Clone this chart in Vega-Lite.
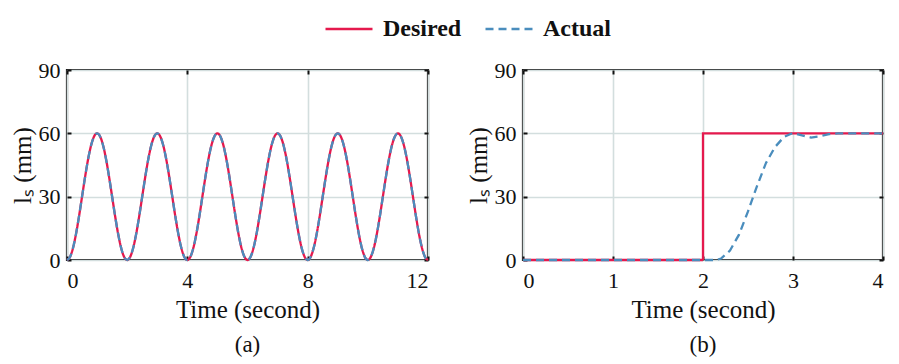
{
  "$schema": "https://vega.github.io/schema/vega-lite/v6.json",
  "background": "white",
  "padding": {"left": 8, "top": 4, "right": 5, "bottom": 5},
  "config": {
    "font": "Liberation Serif",
    "view": {"stroke": "#1a1a1a", "strokeWidth": 2.2},
    "style": {"guide-label": {"font": "Liberation Serif"}, "guide-title": {"font": "Liberation Serif"}},
    "axis": {
      "labelFont": "Liberation Serif", "labelFontSize": 22, "labelColor": "#111",
      "titleFont": "Liberation Serif", "titleFontSize": 25, "titleFontWeight": "normal", "titleColor": "#111",
      "gridColor": "#d3dede", "gridWidth": 1.6, "gridOpacity": 1,
      "domain": false, "tickColor": "#111", "tickWidth": 2, "tickSize": -4
    },
    "axisX": {"labelPadding": 14},
    "axisY": {"labelPadding": 11},
    "legend": {
      "labelFont": "Liberation Serif", "labelFontSize": 24, "labelFontWeight": "bold", "labelColor": "#111",
      "symbolType": "stroke", "symbolSize": 2209, "symbolStrokeWidth": 2.5, "labelOffset": 9, "columnPadding": 18
    },
    "title": {"font": "Liberation Serif", "fontSize": 23, "fontWeight": "normal", "color": "#111", "orient": "bottom", "offset": 12},
    "concat": {"spacing": 30}
  },
  "resolve": {"scale": {"color": "shared", "strokeDash": "shared"}},
  "hconcat": [
    {
      "width": 361, "height": 190,
      "title": "(a)",
      "data": {"values": [
        {"t":0,"Desired":0,"Actual":0},{"t":0.1,"Desired":1.47,"Actual":1.47},{"t":0.2,"Desired":5.73,"Actual":5.73},{"t":0.3,"Desired":12.37,"Actual":12.37},{"t":0.4,"Desired":20.73,"Actual":20.73},{"t":0.5,"Desired":30,"Actual":30},{"t":0.6,"Desired":39.27,"Actual":39.27},{"t":0.7,"Desired":47.63,"Actual":47.63},{"t":0.8,"Desired":54.27,"Actual":54.27},{"t":0.9,"Desired":58.53,"Actual":58.53},
        {"t":1,"Desired":60,"Actual":60},{"t":1.1,"Desired":58.53,"Actual":58.53},{"t":1.2,"Desired":54.27,"Actual":54.27},{"t":1.3,"Desired":47.63,"Actual":47.63},{"t":1.4,"Desired":39.27,"Actual":39.27},{"t":1.5,"Desired":30,"Actual":30},{"t":1.6,"Desired":20.73,"Actual":20.73},{"t":1.7,"Desired":12.37,"Actual":12.37},{"t":1.8,"Desired":5.73,"Actual":5.73},{"t":1.9,"Desired":1.47,"Actual":1.47},
        {"t":2,"Desired":0,"Actual":0},{"t":2.1,"Desired":1.47,"Actual":1.47},{"t":2.2,"Desired":5.73,"Actual":5.73},{"t":2.3,"Desired":12.37,"Actual":12.37},{"t":2.4,"Desired":20.73,"Actual":20.73},{"t":2.5,"Desired":30,"Actual":30},{"t":2.6,"Desired":39.27,"Actual":39.27},{"t":2.7,"Desired":47.63,"Actual":47.63},{"t":2.8,"Desired":54.27,"Actual":54.27},{"t":2.9,"Desired":58.53,"Actual":58.53},
        {"t":3,"Desired":60,"Actual":60},{"t":3.1,"Desired":58.53,"Actual":58.53},{"t":3.2,"Desired":54.27,"Actual":54.27},{"t":3.3,"Desired":47.63,"Actual":47.63},{"t":3.4,"Desired":39.27,"Actual":39.27},{"t":3.5,"Desired":30,"Actual":30},{"t":3.6,"Desired":20.73,"Actual":20.73},{"t":3.7,"Desired":12.37,"Actual":12.37},{"t":3.8,"Desired":5.73,"Actual":5.73},{"t":3.9,"Desired":1.47,"Actual":1.47},
        {"t":4,"Desired":0,"Actual":0},{"t":4.1,"Desired":1.47,"Actual":1.47},{"t":4.2,"Desired":5.73,"Actual":5.73},{"t":4.3,"Desired":12.37,"Actual":12.37},{"t":4.4,"Desired":20.73,"Actual":20.73},{"t":4.5,"Desired":30,"Actual":30},{"t":4.6,"Desired":39.27,"Actual":39.27},{"t":4.7,"Desired":47.63,"Actual":47.63},{"t":4.8,"Desired":54.27,"Actual":54.27},{"t":4.9,"Desired":58.53,"Actual":58.53},
        {"t":5,"Desired":60,"Actual":60},{"t":5.1,"Desired":58.53,"Actual":58.53},{"t":5.2,"Desired":54.27,"Actual":54.27},{"t":5.3,"Desired":47.63,"Actual":47.63},{"t":5.4,"Desired":39.27,"Actual":39.27},{"t":5.5,"Desired":30,"Actual":30},{"t":5.6,"Desired":20.73,"Actual":20.73},{"t":5.7,"Desired":12.37,"Actual":12.37},{"t":5.8,"Desired":5.73,"Actual":5.73},{"t":5.9,"Desired":1.47,"Actual":1.47},
        {"t":6,"Desired":0,"Actual":0},{"t":6.1,"Desired":1.47,"Actual":1.47},{"t":6.2,"Desired":5.73,"Actual":5.73},{"t":6.3,"Desired":12.37,"Actual":12.37},{"t":6.4,"Desired":20.73,"Actual":20.73},{"t":6.5,"Desired":30,"Actual":30},{"t":6.6,"Desired":39.27,"Actual":39.27},{"t":6.7,"Desired":47.63,"Actual":47.63},{"t":6.8,"Desired":54.27,"Actual":54.27},{"t":6.9,"Desired":58.53,"Actual":58.53},
        {"t":7,"Desired":60,"Actual":60},{"t":7.1,"Desired":58.53,"Actual":58.53},{"t":7.2,"Desired":54.27,"Actual":54.27},{"t":7.3,"Desired":47.63,"Actual":47.63},{"t":7.4,"Desired":39.27,"Actual":39.27},{"t":7.5,"Desired":30,"Actual":30},{"t":7.6,"Desired":20.73,"Actual":20.73},{"t":7.7,"Desired":12.37,"Actual":12.37},{"t":7.8,"Desired":5.73,"Actual":5.73},{"t":7.9,"Desired":1.47,"Actual":1.47},
        {"t":8,"Desired":0,"Actual":0},{"t":8.1,"Desired":1.47,"Actual":1.47},{"t":8.2,"Desired":5.73,"Actual":5.73},{"t":8.3,"Desired":12.37,"Actual":12.37},{"t":8.4,"Desired":20.73,"Actual":20.73},{"t":8.5,"Desired":30,"Actual":30},{"t":8.6,"Desired":39.27,"Actual":39.27},{"t":8.7,"Desired":47.63,"Actual":47.63},{"t":8.8,"Desired":54.27,"Actual":54.27},{"t":8.9,"Desired":58.53,"Actual":58.53},
        {"t":9,"Desired":60,"Actual":60},{"t":9.1,"Desired":58.53,"Actual":58.53},{"t":9.2,"Desired":54.27,"Actual":54.27},{"t":9.3,"Desired":47.63,"Actual":47.63},{"t":9.4,"Desired":39.27,"Actual":39.27},{"t":9.5,"Desired":30,"Actual":30},{"t":9.6,"Desired":20.73,"Actual":20.73},{"t":9.7,"Desired":12.37,"Actual":12.37},{"t":9.8,"Desired":5.73,"Actual":5.73},{"t":9.9,"Desired":1.47,"Actual":1.47},
        {"t":10,"Desired":0,"Actual":0},{"t":10.1,"Desired":1.47,"Actual":1.47},{"t":10.2,"Desired":5.73,"Actual":5.73},{"t":10.3,"Desired":12.37,"Actual":12.37},{"t":10.4,"Desired":20.73,"Actual":20.73},{"t":10.5,"Desired":30,"Actual":30},{"t":10.6,"Desired":39.27,"Actual":39.27},{"t":10.7,"Desired":47.63,"Actual":47.63},{"t":10.8,"Desired":54.27,"Actual":54.27},{"t":10.9,"Desired":58.53,"Actual":58.53},
        {"t":11,"Desired":60,"Actual":60},{"t":11.1,"Desired":58.53,"Actual":58.53},{"t":11.2,"Desired":54.27,"Actual":54.27},{"t":11.3,"Desired":47.63,"Actual":47.63},{"t":11.4,"Desired":39.27,"Actual":39.27},{"t":11.5,"Desired":30,"Actual":30},{"t":11.6,"Desired":20.73,"Actual":20.73},{"t":11.7,"Desired":12.37,"Actual":12.37},{"t":11.8,"Desired":5.73,"Actual":5.73},{"t":11.9,"Desired":1.47,"Actual":1.47},
        {"t":12,"Desired":0,"Actual":0}
      ]},
      "transform": [{"fold": ["Desired", "Actual"], "as": ["series", "v"]}],
      "layer": [
        {
          "mark": {"type": "line", "strokeWidth": 2.3, "interpolate": "monotone"},
          "encoding": {
            "x": {"field": "t", "type": "quantitative", "scale": {"domain": [0, 12], "nice": false},
                  "axis": {"values": [0, 4, 8, 12], "title": "Time (second)", "titlePadding": 6, "labelFont": "Liberation Serif"}},
            "y": {"field": "v", "type": "quantitative", "scale": {"domain": [0, 90], "nice": false},
                  "axis": {"values": [0, 30, 60, 90], "title": "lₛ (mm)", "titlePadding": 3, "labelFont": "Liberation Serif"}},
            "color": {"field": "series", "type": "nominal",
                      "scale": {"domain": ["Desired", "Actual"], "range": ["#e5194d", "#4a8dbd"]},
                      "legend": {"title": null, "orient": "none", "direction": "horizontal", "legendX": 257, "legendY": -66}},
            "strokeDash": {"field": "series", "type": "nominal",
                           "scale": {"domain": ["Desired", "Actual"], "range": [[1, 0], [8, 5]]},
                           "legend": {"title": null, "orient": "none", "direction": "horizontal", "legendX": 257, "legendY": -66}}
          }
        },
        {
          "mark": {"type": "line", "opacity": 0},
          "encoding": {
            "x": {"field": "t", "type": "quantitative", "axis": {"orient": "top", "values": [0, 4, 8, 12], "labels": false, "title": null, "grid": false}},
            "y": {"field": "v", "type": "quantitative", "axis": {"orient": "right", "values": [0, 30, 60, 90], "labels": false, "title": null, "grid": false}}
          }
        }
      ],
      "resolve": {"axis": {"x": "independent", "y": "independent"}}
    },
    {
      "width": 360, "height": 190,
      "title": "(b)",
      "data": {"values": [
        {"t":0,"series":"Desired","v":0},{"t":2,"series":"Desired","v":0},{"t":2,"series":"Desired","v":60},{"t":4,"series":"Desired","v":60},
        {"t":0,"series":"Actual","v":0},{"t":2.0,"series":"Actual","v":0},{"t":2.15,"series":"Actual","v":0},{"t":2.2,"series":"Actual","v":0.7},{"t":2.3,"series":"Actual","v":4.5},{"t":2.4,"series":"Actual","v":12},{"t":2.5,"series":"Actual","v":23},{"t":2.6,"series":"Actual","v":35},{"t":2.7,"series":"Actual","v":46},{"t":2.8,"series":"Actual","v":53.5},{"t":2.9,"series":"Actual","v":58.3},{"t":3.0,"series":"Actual","v":60.2},{"t":3.1,"series":"Actual","v":59},{"t":3.2,"series":"Actual","v":58},{"t":3.3,"series":"Actual","v":58.6},{"t":3.4,"series":"Actual","v":59.6},{"t":3.5,"series":"Actual","v":60},{"t":4,"series":"Actual","v":60}
      ]},
      "layer": [
        {
          "mark": {"type": "line", "strokeWidth": 2.3},
          "encoding": {
            "x": {"field": "t", "type": "quantitative", "scale": {"domain": [0, 4], "nice": false},
                  "axis": {"values": [0, 1, 2, 3, 4], "title": "Time (second)", "titlePadding": 6, "labelFont": "Liberation Serif"}},
            "y": {"field": "v", "type": "quantitative", "scale": {"domain": [0, 90], "nice": false},
                  "axis": {"values": [0, 30, 60, 90], "title": "lₛ (mm)", "titlePadding": 3, "labelFont": "Liberation Serif"}},
            "color": {"field": "series", "type": "nominal",
                      "scale": {"domain": ["Desired", "Actual"], "range": ["#e5194d", "#4a8dbd"]},
                      "legend": {"title": null, "orient": "none", "direction": "horizontal", "legendX": 257, "legendY": -66}},
            "strokeDash": {"field": "series", "type": "nominal",
                           "scale": {"domain": ["Desired", "Actual"], "range": [[1, 0], [8, 5]]},
                           "legend": {"title": null, "orient": "none", "direction": "horizontal", "legendX": 257, "legendY": -66}}
          }
        },
        {
          "mark": {"type": "line", "opacity": 0},
          "encoding": {
            "x": {"field": "t", "type": "quantitative", "axis": {"orient": "top", "values": [0, 1, 2, 3, 4], "labels": false, "title": null, "grid": false}},
            "y": {"field": "v", "type": "quantitative", "axis": {"orient": "right", "values": [0, 30, 60, 90], "labels": false, "title": null, "grid": false}}
          }
        }
      ],
      "resolve": {"axis": {"x": "independent", "y": "independent"}}
    }
  ]
}
